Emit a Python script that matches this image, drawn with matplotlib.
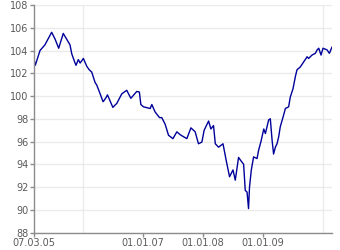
import numpy as np
import pandas as pd
import matplotlib
matplotlib.use("Agg")
from matplotlib import pyplot as plt

# index values
dates = ["2005-03-07", "2005-03-13", "2005-04-11", "2005-05-11", "2005-06-21",
         "2005-07-12", "2005-08-03", "2005-08-31", "2005-10-11", "2005-10-22",
         "2005-11-11", "2005-11-17", "2005-12-01", "2005-12-12", "2006-01-01",
         "2006-01-22", "2006-02-06", "2006-02-21", "2006-03-13", "2006-03-24",
         "2006-04-13", "2006-05-01", "2006-05-07", "2006-05-21", "2006-05-28",
         "2006-06-30", "2006-07-24", "2006-08-24", "2006-09-23", "2006-10-18",
         "2006-11-23", "2006-12-09", "2006-12-18", "2007-01-03", "2007-02-13",
         "2007-02-23", "2007-03-15", "2007-04-11", "2007-04-25", "2007-05-16",
         "2007-06-05", "2007-07-02", "2007-07-26", "2007-08-15", "2007-09-25",
         "2007-10-20", "2007-11-15", "2007-12-05", "2007-12-26", "2008-01-09",
         "2008-02-05", "2008-02-19", "2008-03-06", "2008-03-17", "2008-04-06",
         "2008-05-03", "2008-05-23", "2008-06-12", "2008-07-03", "2008-07-17",
         "2008-08-06", "2008-08-21", "2008-09-06", "2008-09-16", "2008-09-27",
         "2008-10-06", "2008-10-12", "2008-10-23", "2008-11-06", "2008-11-27",
         "2008-12-06", "2008-12-21", "2009-01-07", "2009-01-17", "2009-02-06",
         "2009-02-16", "2009-02-27", "2009-03-08", "2009-03-19", "2009-03-29",
         "2009-04-08", "2009-04-18", "2009-05-08", "2009-05-19", "2009-06-08",
         "2009-06-18", "2009-07-05", "2009-07-19", "2009-07-29", "2009-08-18",
         "2009-09-08", "2009-09-29", "2009-10-08", "2009-10-29", "2009-11-18",
         "2009-11-29", "2009-12-09", "2009-12-23", "2010-01-04", "2010-01-29",
         "2010-02-12", "2010-02-28"]
values = [103.1, 102.7, 104.0, 104.5, 105.6,
          105.0, 104.2, 105.5, 104.5, 103.7,
          102.9, 102.7, 103.2, 102.9, 103.3,
          102.6, 102.3, 102.1, 101.2, 100.95,
          100.2, 99.5, 99.6, 99.9, 100.1,
          99.0, 99.35, 100.2, 100.5, 99.8,
          100.4, 100.35, 99.25, 99.05, 98.9,
          99.25, 98.6, 98.1, 98.1, 97.5,
          96.55, 96.25, 96.85, 96.6, 96.25,
          97.2, 96.85, 95.8, 95.95, 97.0,
          97.8, 97.1, 97.4, 95.8, 95.5,
          95.8, 94.3, 92.9, 93.5, 92.6,
          94.6, 94.3, 94.0, 91.7, 91.55,
          90.1, 92.0, 93.5, 94.65, 94.5,
          95.2, 96.0, 97.1, 96.7, 97.9,
          98.0, 96.1, 94.9, 95.5, 95.8,
          96.4, 97.3, 98.3, 98.9, 99.05,
          99.9, 100.65, 101.7, 102.3, 102.55,
          103.0, 103.45, 103.3, 103.6, 103.75,
          104.05, 104.2, 103.6, 104.2, 104.05,
          103.75, 104.3]

grid_years = ["2006-01-01", "2007-01-01", "2008-01-01", "2009-01-01", "2010-01-01"]
tick_dates = ["2005-03-07", "2007-01-01", "2008-01-01", "2009-01-01"]
tick_labels = ["07.03.05", "01.01.07", "01.01.08", "01.01.09"]
y_ticks = [88, 90, 92, 94, 96, 98, 100, 102, 104, 106, 108]

x = pd.to_datetime(dates)

fig = plt.figure(figsize=(3.4, 2.5), dpi=100)
ax = fig.add_axes([34.3 / 340, 1 - 232.5 / 250, (332 - 34.3) / 340, (232.5 - 5) / 250])

ax.plot(x, values, color='#00009a', linewidth=1.0)

ax.set_xlim(x[0], x[-1])
ax.set_ylim(88, 108)

ax.set_yticks(y_ticks)
ax.set_xticks(pd.to_datetime(tick_dates))
ax.set_xticklabels(tick_labels)
ax.set_xticks(pd.to_datetime(grid_years), minor=True)

ax.grid(which='major', axis='y', color='#ebebeb', linewidth=1)
ax.grid(which='minor', axis='x', color='#ebebeb', linewidth=1)
ax.set_axisbelow(True)

for side in ['top', 'right']:
    ax.spines[side].set_visible(False)
for side in ['left', 'bottom']:
    ax.spines[side].set_color('#8c8c8c')
    ax.spines[side].set_linewidth(1)

ax.tick_params(which='major', length=3, width=1, color='#8c8c8c',
               labelsize=7, labelcolor='#5a5a5a', pad=1)
ax.tick_params(which='minor', length=0)

fig.savefig('out.png', dpi=100)
